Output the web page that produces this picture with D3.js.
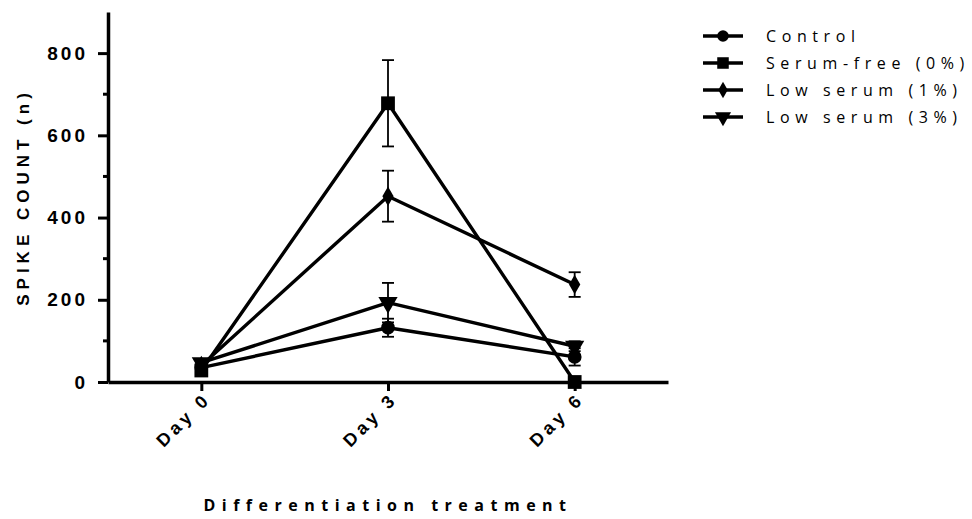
<!DOCTYPE html>
<html>
<head>
<meta charset="utf-8">
<script src="https://cdn.jsdelivr.net/npm/d3@7"></script>
<style>
  body { margin: 0; background: #fff; }
  svg text { fill: #000; }
</style>
</head>
<body>
<div id="chart"></div>
<script>
// Data (mean and error per day)
var categories = ["Day 0", "Day 3", "Day 6"];
var seriesNames = ["Control", "Serum-free (0%)", "Low serum (1%)", "Low serum (3%)"];
var controlMean = [35, 132, 61];
var controlErr = [8, 22, 21];
var serumFreeMean = [28, 678, 0];
var serumFreeErr = [5, 105, 0];
var low1Mean = [40, 452, 237];
var low1Err = [6, 62, 30];
var low3Mean = [47, 193, 87];
var low3Err = [6, 48, 12];
var yTicks = [0, 200, 400, 600, 800];
var yMinorTicks = [100, 300, 500, 700];

var series = [
  {name: seriesNames[0], mean: controlMean, err: controlErr, symbol: d3.symbolCircle, size: 150},
  {name: seriesNames[1], mean: serumFreeMean, err: serumFreeErr, symbol: d3.symbolSquare, size: 190},
  {name: seriesNames[2], mean: low1Mean, err: low1Err, symbol: d3.symbolDiamond, size: 110},
  {name: seriesNames[3], mean: low3Mean, err: low3Err, symbol: d3.symbolTriangle, size: 160, flip: true}
];

var width = 972, height = 519;
var svg = d3.select("#chart").append("svg")
  .attr("width", width)
  .attr("height", height);

// Setup: scales
var x = d3.scaleLinear().domain([-0.5, 2.5]).range([108, 668]);
var y = d3.scaleLinear().domain([0, 900]).range([382, 12]);

// Axes
var yAxis = d3.axisLeft(y).tickValues(yTicks).tickSize(10).tickPadding(6).tickSizeOuter(0);
var gy = svg.append("g")
  .attr("transform", "translate(" + x.range()[0] + ",0)")
  .call(yAxis);
gy.selectAll(".minor")
  .data(yMinorTicks)
  .enter().append("line")
    .attr("class", "minor")
    .attr("x1", -5).attr("x2", 0)
    .attr("y1", function(d){ return y(d) })
    .attr("y2", function(d){ return y(d) })
    .attr("stroke", "#000").attr("stroke-width", 3);

var xAxis = d3.axisBottom(x).tickValues([0, 1, 2])
  .tickFormat(function(d){ return categories[d] })
  .tickSize(9).tickSizeOuter(0);
var gx = svg.append("g")
  .attr("transform", "translate(0," + y(0) + ")")
  .call(xAxis);

svg.selectAll(".domain").attr("stroke", "#000").attr("stroke-width", 3.5);
svg.selectAll(".tick line").attr("stroke", "#000").attr("stroke-width", 3);
svg.selectAll("g text")
  .style("font-family", "'Liberation Sans', Arial, sans-serif")
  .style("font-weight", "bold")
  .style("font-size", "19px")
  .style("letter-spacing", "3px");
gy.selectAll(".tick text").attr("dx", "-4px");
gx.selectAll(".tick text")
  .style("font-size", "18px")
  .style("letter-spacing", "4px")
  .attr("text-anchor", "end")
  .attr("dy", null)
  .attr("transform", "translate(10,18) rotate(-45)")
  .attr("y", 0).attr("x", 0);

// Axis titles
svg.append("text")
  .attr("transform", "translate(23," + y(450) + ") rotate(-90)")
  .attr("text-anchor", "middle")
  .attr("dy", "0.35em")
  .style("font-family", "'Liberation Sans', Arial, sans-serif")
  .style("font-weight", "bold")
  .style("font-size", "17px")
  .style("letter-spacing", "5px")
  .text("SPIKE COUNT (n)");

svg.append("text")
  .attr("x", x(1)).attr("y", 511)
  .attr("text-anchor", "middle")
  .style("font-family", "'Open Sans', sans-serif")
  .style("font-weight", "bold")
  .style("font-size", "16px")
  .style("letter-spacing", "6.5px")
  .text("Differentiation treatment");

// Error bars
var cap = 6;
series.forEach(function(s) {
  var g = svg.append("g").attr("class", "errbars");
  s.mean.forEach(function(m, i) {
    if (!s.err[i]) return;
    var cx = x(i), top = y(m + s.err[i]), bot = y(m - s.err[i]);
    g.append("line").attr("x1", cx).attr("x2", cx).attr("y1", top).attr("y2", bot);
    g.append("line").attr("x1", cx - cap).attr("x2", cx + cap).attr("y1", top).attr("y2", top);
    g.append("line").attr("x1", cx - cap).attr("x2", cx + cap).attr("y1", bot).attr("y2", bot);
  });
  g.selectAll("line").attr("stroke", "#000").attr("stroke-width", 1.8);
});

// Lines
var line = d3.line()
  .x(function(d, i){ return x(i) })
  .y(function(d){ return y(d) });
series.forEach(function(s) {
  svg.append("path")
    .datum(s.mean)
    .attr("fill", "none")
    .attr("stroke", "#000")
    .attr("stroke-width", 3.4)
    .attr("stroke-linejoin", "round")
    .attr("d", line);
});

// Markers
series.forEach(function(s) {
  svg.selectAll(null)
    .data(s.mean)
    .enter().append("path")
      .attr("d", d3.symbol().type(s.symbol).size(s.size))
      .attr("transform", function(d, i) {
        return "translate(" + x(i) + "," + y(d) + ")" + (s.flip ? " rotate(180)" : "");
      })
      .attr("fill", "#000");
});

// Legend
var legend = svg.append("g").attr("class", "legend");
series.forEach(function(s, i) {
  var ly = 36 + i * 27;
  legend.append("line")
    .attr("x1", 703).attr("x2", 743)
    .attr("y1", ly).attr("y2", ly)
    .attr("stroke", "#000").attr("stroke-width", 3.4);
  legend.append("path")
    .attr("d", d3.symbol().type(s.symbol).size(s.size * 0.7))
    .attr("transform", "translate(723," + ly + ")" + (s.flip ? " rotate(180)" : ""))
    .attr("fill", "#000");
  legend.append("text")
    .attr("x", 766).attr("y", ly)
    .attr("dy", "0.36em")
    .style("font-family", "'Open Sans', sans-serif")
    .style("font-size", "16px")
    .style("letter-spacing", "5.6px")
    .text(s.name);
});
</script>
</body>
</html>
